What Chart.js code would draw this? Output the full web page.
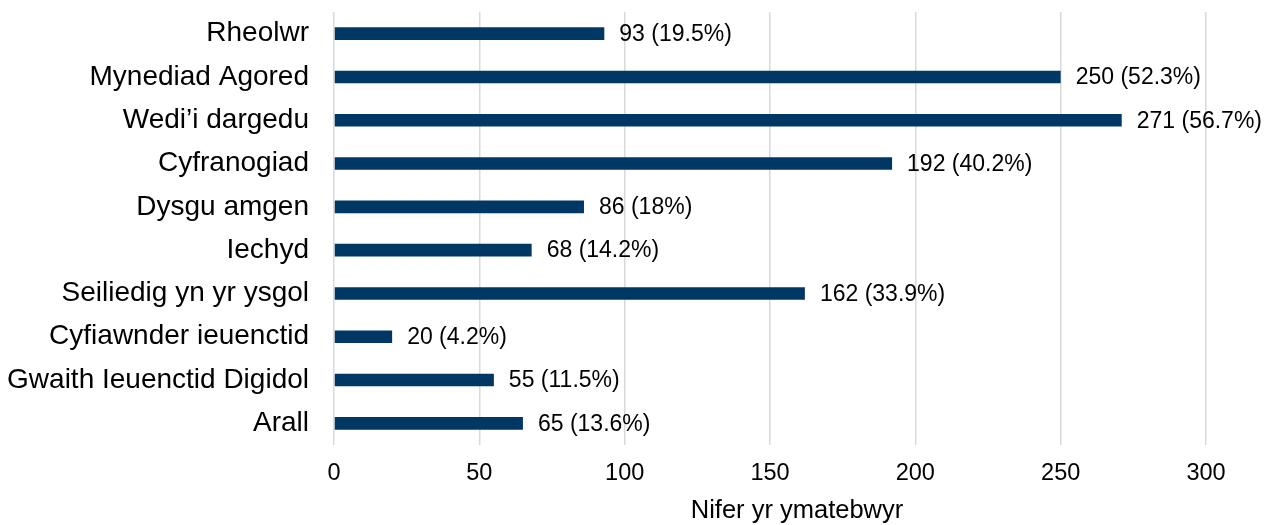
<!DOCTYPE html>
<html><head><meta charset="utf-8">
<script src="https://cdn.jsdelivr.net/npm/chart.js@4/dist/chart.umd.min.js"></script>
<style>html,body{margin:0;padding:0;background:#fff}#w{width:1279px;height:525px}</style>
</head><body><div id="w"><canvas id="c"></canvas></div>
<script>
const categories = ["Rheolwr","Mynediad Agored","Wedi\u2019i dargedu","Cyfranogiad","Dysgu amgen","Iechyd","Seiliedig yn yr ysgol","Cyfiawnder ieuenctid","Gwaith Ieuenctid Digidol","Arall"];
const counts = [93,250,271,192,86,68,162,20,55,65];
const percents = ["19.5","52.3","56.7","40.2","18","14.2","33.9","4.2","11.5","13.6"];
const xTicks = [0,50,100,150,200,250,300];
const axisTitle = "Nifer yr ymatebwyr";
const FAM = '"Liberation Sans", Arial, sans-serif';

const labelPlugin = {
  id:'lbl',
  afterDatasetsDraw(chart){
    const ctx = chart.ctx;
    const meta = chart.getDatasetMeta(0);
    ctx.save();
    ctx.font = '23px ' + FAM;
    ctx.fillStyle = '#000';
    ctx.textBaseline = 'middle';
    ctx.textAlign = 'left';
    meta.data.forEach((bar,i)=>{
      ctx.fillText(counts[i] + ' (' + percents[i] + '%)', bar.x + 15, bar.y + 1);
    });
    // axis title, slightly right of the plot centre as in the reference
    const ca = chart.chartArea;
    ctx.font = '25.5px ' + FAM;
    ctx.textAlign = 'center';
    ctx.fillText(axisTitle, (ca.left + ca.right) / 2 + 27, 511);
    ctx.restore();
  }
};

new Chart(document.getElementById('c'),{
  type:'bar',
  data:{labels:categories,datasets:[{data:counts,backgroundColor:'#003764',barPercentage:0.29,categoryPercentage:1}]},
  options:{
    indexAxis:'y',responsive:true,maintainAspectRatio:false,animation:false,
    layout:{padding:{top:12,right:73,left:0,bottom:0}},
    plugins:{legend:{display:false},tooltip:{enabled:false}},
    scales:{
      x:{min:0,max:300,
        afterBuildTicks(s){s.ticks = xTicks.map(v=>({value:v}));},
        grid:{color:'#d9d9d9',lineWidth:1.5,drawTicks:false},border:{display:false},
        ticks:{color:'#000',padding:14,font:{family:FAM,size:23.5}},
        title:{display:false},
        afterFit(s){s.height = 80;}
      },
      y:{grid:{display:false,drawTicks:false},border:{display:false},
        ticks:{color:'#000',padding:25,font:{family:FAM,size:28}},
        afterFit(s){s.width = 334; s.paddingTop = 0; s.paddingBottom = 0;}
      }
    }
  },
  plugins:[labelPlugin]
});
</script></body></html>
